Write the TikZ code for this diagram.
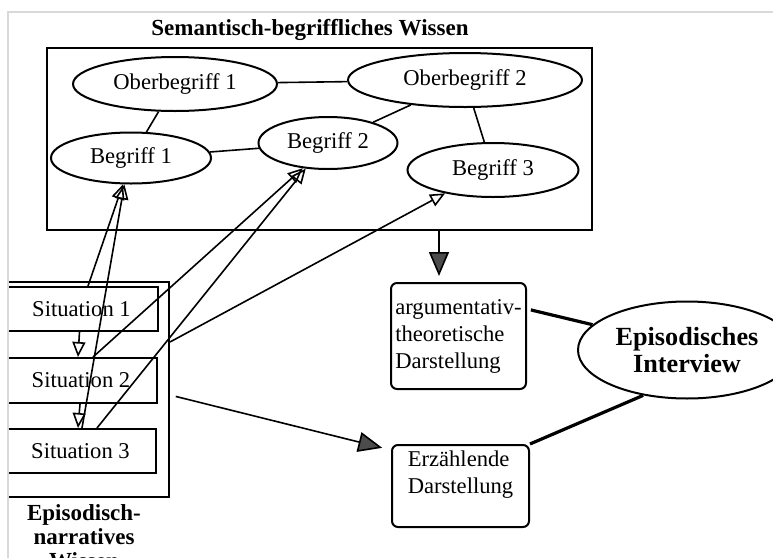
\documentclass[tikz,border=0pt]{standalone}
\usepackage{fontspec}
\setmainfont{Liberation Serif}
\usetikzlibrary{shapes.geometric,arrows.meta,positioning}

\begin{document}
\begin{tikzpicture}[x=0.5pt,y=-0.5pt,
    every node/.style={font=\fontsize{11.3}{13.5}\selectfont},
    begr/.style={ellipse,draw,line width=1pt,inner sep=0pt},
    sitbox/.style={rectangle,draw,line width=1pt,minimum width=76pt,minimum height=22pt,inner sep=0pt},
    darst/.style={rectangle,draw,rounded corners=3pt,line width=1pt,align=left,inner sep=2pt},
    heavy/.style={font=\bfseries\fontsize{11.5}{12}\selectfont,align=center,inner sep=0pt},
    opentip/.style={line width=.8pt,-{Triangle[open,length=7.5pt,width=6.5pt]}},
    greytip/.style={line width=.8pt,-{Triangle[length=12pt,width=10pt,color=black,fill=black!70]}}]
    \useasboundingbox (0,0) rectangle (773,558);
    \draw[black!15,line width=.8pt] (8,570) -- (8,12) -- (780,12);
    \clip (9,13) rectangle (773,558);

    \node[begr,minimum width=102pt,minimum height=27pt] (ob1) at (175,84) {Oberbegriff 1};
    \node[begr,minimum width=117pt,minimum height=27pt] (ob2) at (465,80) {Oberbegriff 2};
    \node[begr,minimum width=80pt,minimum height=25.5pt] (b1) at (131,158) {Begriff 1};
    \node[begr,minimum width=69.5pt,minimum height=26pt] (b2) at (328,143) {Begriff 2};
    \node[begr,minimum width=85.5pt,minimum height=27pt] (b3) at (493,170) {Begriff 3};
    \node[draw,line width=1pt,minimum width=272.5pt,minimum height=91pt] (sem) at (319.5,139) {};
    \node[heavy] (semtitle) at (310,30) {Semantisch-begriffliches Wissen};

    \node[draw,line width=1pt,minimum width=83pt,minimum height=107.5pt] (epi) at (86,389.5) {};
    \node[sitbox,minimum width=76.5pt] (sit1) at (81.5,309) {Situation 1};
    \node[sitbox,minimum height=22.5pt] (sit2) at (81,380.5) {Situation 2};
    \node[sitbox,minimum width=75.5pt] (sit3) at (80.5,451) {Situation 3};
    \node[heavy,below=3pt of epi,xshift=-1pt] (epilabel) {Episodisch-\\narratives\\Wissen};

    \node[darst,minimum width=67.5pt,minimum height=53pt] (arg) at (458.5,336) {argumentativ-\\theoretische\\Darstellung};
    \node[darst,minimum width=68.5pt,minimum height=41pt] (erz) at (460.5,486) {Erzählende\\Darstellung\\~};
    \node[ellipse,draw,line width=1pt,minimum width=109pt,minimum height=48.5pt,inner sep=0pt,align=center,
        font=\bfseries\fontsize{13.1}{13.5}\selectfont] (interview) at (687,350) {Episodisches\\Interview};

    \draw[line width=.8pt] (ob1) -- (ob2) (ob1) -- (b1) (b1) -- (b2) (ob2) -- (b2) (ob2) -- (b3);
    \draw[opentip] ([xshift=-1pt]sit1.south) -- ([xshift=-1.5pt]sit2.north);
    \draw[opentip] ([xshift=-.5pt]sit2.south) -- ([xshift=-1.25pt]sit3.north);
    \draw[opentip] ([xshift=3.25pt]sit1.north) -- (b1.253);
    \draw[opentip] ([xshift=.75pt]sit3.north) -- (b1.256);
    \draw[opentip] ([xshift=6pt]sit2.north) -- (b2.225);
    \draw[opentip] ([xshift=8.25pt]sit3.north) -- (b2.229);
    \draw[opentip] ([yshift=23.75pt]epi.east) -- (b3.206);
    \draw[greytip,shorten >=3pt] ([xshift=59.75pt]sem.south) -- ([xshift=-9.75pt]arg.north);
    \draw[greytip,shorten <=3pt,shorten >=4.5pt] ([yshift=-2.75pt]epi.east) -- ([yshift=18pt]erz.west);
    \draw[line width=1.6pt,shorten <=2pt] ([yshift=13.5pt]arg.east) -- (interview.165);
    \draw[line width=1.6pt] (erz.north east) -- (interview.226);
\end{tikzpicture}
\end{document}
